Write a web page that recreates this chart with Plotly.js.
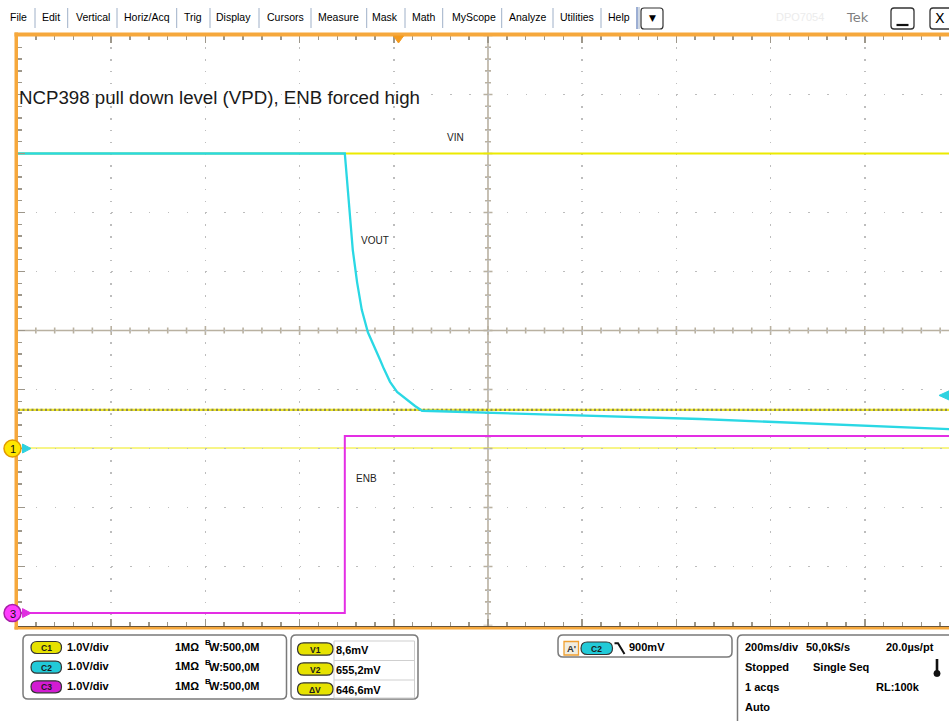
<!DOCTYPE html>
<html><head><meta charset="utf-8">
<script src="https://cdn.plot.ly/plotly-3.0.1.min.js"></script>
<style>html,body{margin:0;padding:0;background:#fff;overflow:hidden}#chart{width:949px;height:721px}</style>
</head><body><div id="chart"></div>
<script>
// ---------------- data ----------------
// time in ms relative to the screen centre (200 ms/div), volts per channel
const timeVIN  = [-1000, 979];
const voltsVIN = [5.0, 5.0];
const timeVOUT  = [-1000, -304, -302, -299, -297, -293, -287, -278, -268, -255, -242, -229, -221, -208, -193, -172, -155, -140, -38, 153, 450, 769, 979];
const voltsVOUT = [5.0, 5.0, 4.81, 4.52, 4.21, 3.84, 3.36, 2.82, 2.35, 1.97, 1.72, 1.50, 1.35, 1.13, 0.96, 0.82, 0.72, 0.64, 0.62, 0.57, 0.50, 0.40, 0.33];
const timeENB  = [-1000, -304, -304, 979];
const voltsENB = [0, 0, 3.0, 3.0];
const traceLabels = ['VIN', 'VOUT', 'ENB'];
const channelLabels = ['C1', 'C2', 'C3'];
const channelVoltsPerDiv = [1.0, 1.0, 1.0];
const channelVdivText = ['1.0V/div', '1.0V/div', '1.0V/div'];
const channelImpedance = ['1MΩ', '1MΩ', '1MΩ'];
const channelBandwidth = ['500,0M', '500,0M', '500,0M'];
const channelOffsetDiv = [-2.0, -2.0, -4.79];
const cursorLabels = ['V1', 'V2', 'ΔV'];
const cursorReadouts = ['8,6mV', '655,2mV', '646,6mV'];
const cursorVolts = [0.0086, 0.6552];
const triggerLevelVolts = 0.9;
const triggerText = '900mV';
const acqRow1 = ['200ms/div', '50,0kS/s', '20.0µs/pt'];
const acqRow2 = ['Stopped', 'Single Seq'];
const acqRow3 = ['1 acqs', 'RL:100k'];
const acqRow4 = ['Auto'];
const menuLabels = ['File','Edit','Vertical','Horiz/Acq','Trig','Display','Cursors','Measure','Mask','Math','MyScope','Analyze','Utilities','Help'];
const titleText = 'NCP398 pull down level (VPD), ENB forced high';

// ---------------- layout helpers ----------------
const W = 949, H = 721;
const YC = 330.5, DIVY = 59;
const divToPy = d => YC - d * DIVY;
const fx = x => x / W, fy = y => 1 - y / H;
const pt = (x, y) => fx(x).toFixed(5) + ',' + fy(y).toFixed(5);
const FONT = 'Liberation Sans, Arial, sans-serif';

const menuCenters = [18.5,50.5,92.5,147,193,233.5,285,338,385,423.5,473.5,527.5,576.5,619];
const menuSeps = [35,67.7,117,176.7,210,259,311,366.7,405,442.7,501.7,553,601];

const annotations = [];
const shapes = [];
function txt(text, x, y, o = {}) {
  annotations.push({xref:'paper', yref:'paper', x:fx(x), y:fy(y), text:text, showarrow:false,
    xanchor:o.xa || 'left', yanchor:'middle', align:'left', borderpad:0, borderwidth:0,
    font:{family:o.family || FONT, size:o.size || 11, color:o.color || '#000', weight:o.weight || 'normal'}});
}
function rr(x0, y0, x1, y1, r) {
  return `M${pt(x0+r,y0)} L${pt(x1-r,y0)} Q${pt(x1,y0)} ${pt(x1,y0+r)} L${pt(x1,y1-r)} Q${pt(x1,y1)} ${pt(x1-r,y1)} L${pt(x0+r,y1)} Q${pt(x0,y1)} ${pt(x0,y1-r)} L${pt(x0,y0+r)} Q${pt(x0,y0)} ${pt(x0+r,y0)} Z`;
}
function pathShape(path, fill, line, lw, layer) {
  shapes.push({type:'path', xref:'paper', yref:'paper', path:path, fillcolor:fill || 'rgba(0,0,0,0)',
    line:{color:line || 'rgba(0,0,0,0)', width:lw === undefined ? 1 : lw}, layer:layer || 'above'});
}
function rect(x0, y0, x1, y1, fill, line, lw) {
  shapes.push({type:'rect', xref:'paper', yref:'paper', x0:fx(x0), x1:fx(x1), y0:fy(y0), y1:fy(y1),
    fillcolor:fill, line:{color:line || 'rgba(0,0,0,0)', width:lw || 0}, layer:'above'});
}
function seg(x0, y0, x1, y1, color, lw) {
  shapes.push({type:'line', xref:'paper', yref:'paper', x0:fx(x0), x1:fx(x1), y0:fy(y0), y1:fy(y1),
    line:{color:color, width:lw}, layer:'above'});
}
function circ(cx, cy, r, fill, line, lw) {
  shapes.push({type:'circle', xref:'paper', yref:'paper', x0:fx(cx-r), x1:fx(cx+r), y0:fy(cy+r), y1:fy(cy-r),
    fillcolor:fill, line:{color:line, width:lw}, layer:'above'});
}
function pill(x0, y0, x1, y1, fill, label) {
  pathShape(rr(x0, y0, x1, y1, (y1 - y0) / 2), fill, '#333', 1.2);
  txt(label, (x0 + x1) / 2, (y0 + y1) / 2 + 0.5, {xa:'center', size:8.5, color:'#1a1a1a', weight:'bold'});
}

// ---------------- menu bar ----------------
menuLabels.forEach((m, i) => txt(m, menuCenters[i], 17.5, {xa:'center', size:10.5}));
menuSeps.forEach(x => seg(x, 8, x, 28, '#9fb0c8', 1));
seg(637, 7, 637, 29, '#3a5fa8', 1); seg(639, 7, 639, 29, '#9fb0c8', 1);
pathShape(rr(641, 8, 663, 29, 3), '#fff', '#333', 1.2);
txt('▼', 652, 18, {xa:'center', size:9, family:'DejaVu Sans'});
txt('DPO7054', 800, 17.5, {xa:'center', size:11, color:'#ececec'});
txt('Tek', 857, 17.5, {xa:'center', size:13, color:'#808080', family:'DejaVu Sans'});
pathShape(rr(891, 8, 914, 29, 3), '#fff', '#333', 1.3);
seg(896.5, 25, 908.5, 25, '#111', 2.2);
pathShape(rr(930, 8, 956, 29, 3), '#fff', '#333', 1.3);
txt('X', 939.5, 18.5, {xa:'center', size:14, family:'DejaVu Sans'});

// ---------------- graticule frame ----------------
rect(14.5, 32.5, 949, 36.5, '#f6a83c');
rect(14.5, 32.5, 18, 629.5, '#f6a83c');
rect(14.5, 626.8, 949, 629.5, '#f6a83c');
// trigger position marker
pathShape(`M${pt(393.5,36)} L${pt(403.5,36)} L${pt(398.5,43)} Z`, '#f39a1e', '#f39a1e', 1);

// centre cross with ticks
const gColor = '#b9b1a1';
shapes.push({type:'line', xref:'x', yref:'paper', x0:0, x1:0, y0:fy(625.5), y1:fy(35.5), line:{color:gColor, width:1.6}, layer:'below'});
shapes.push({type:'line', xref:'paper', yref:'y', x0:fx(17), x1:1, y0:0, y1:0, line:{color:gColor, width:1.6}, layer:'below'});
for (let k = -25; k <= 24; k++) {
  const t = k * 40, major = (k % 5 === 0);
  shapes.push({type:'line', xref:'x', yref:'y', x0:t, x1:t, ysizemode:'pixel', yanchor:0,
    y0:major ? -4.5 : -3, y1:major ? 4.5 : 3, line:{color:gColor, width:1.6}, layer:'below'});
}
for (let k = -25; k <= 25; k++) {
  const v = k * 0.2, major = (k % 5 === 0);
  shapes.push({type:'line', xref:'x', yref:'y', y0:v, y1:v, xsizemode:'pixel', xanchor:0,
    x0:major ? -4.5 : -3, x1:major ? 4.5 : 3, line:{color:gColor, width:1.6}, layer:'below'});
}

// cursors (on channel 1)
const c1 = v => v / channelVoltsPerDiv[0] + channelOffsetDiv[0];
shapes.push({type:'line', xref:'paper', yref:'y', x0:fx(18), x1:1, y0:c1(cursorVolts[0]), y1:c1(cursorVolts[0]),
  line:{color:'#f0ec10', width:1.2}, layer:'below'});
shapes.push({type:'line', xref:'paper', yref:'y', x0:fx(18), x1:1, y0:c1(cursorVolts[1]), y1:c1(cursorVolts[1]),
  line:{color:'#ece626', width:2.2}, layer:'below'});
shapes.push({type:'line', xref:'paper', yref:'y', x0:fx(18), x1:1, y0:c1(cursorVolts[1]), y1:c1(cursorVolts[1]),
  line:{color:'#8e8a52', width:2.2, dash:'2px,2.5px'}, layer:'below'});

// channel ground markers
const g1 = divToPy(channelOffsetDiv[0]);
const g3 = divToPy(channelOffsetDiv[2]);
pathShape(`M${pt(22.5,g1-4.5)} L${pt(31,g1)} L${pt(22.5,g1+4.5)} Z`, '#2fd2e0', '#2fd2e0', 1);
circ(12.5, g1, 8.5, '#ffe600', '#e29a00', 1.5);
txt('1', 12.5, g1 + 0.5, {xa:'center', size:11, color:'#111'});
pathShape(`M${pt(22.5,g3-4.5)} L${pt(31,g3)} L${pt(22.5,g3+4.5)} Z`, '#e02ee0', '#e02ee0', 1);
circ(12.5, g3, 8.5, '#ff3cff', '#a81ea8', 1.5);
txt('3', 12.5, g3 + 0.5, {xa:'center', size:11, color:'#111'});
// trigger level marker (C2)
const gT = divToPy(triggerLevelVolts / channelVoltsPerDiv[1] + channelOffsetDiv[1]);
pathShape(`M${pt(950,gT-5)} L${pt(939,gT)} L${pt(950,gT+5)} Z`, '#2fd2e0', '#2fd2e0', 1);

// titles & trace labels
txt(titleText, 19, 97.5, {size:18.7, color:'#1a1a1a'});
txt(traceLabels[0], 455, 137.5, {xa:'center', size:10, color:'#222'});
txt(traceLabels[1], 375, 240, {xa:'center', size:10, color:'#222'});
txt(traceLabels[2], 366, 478, {xa:'center', size:10, color:'#222'});

// ---------------- bottom panels ----------------
const chanColors = ['#e6e200', '#22cad8', '#d21cd2'];
pathShape(rr(23, 635, 286.5, 699, 5), '#fff', '#7a7a7a', 1.5);
const rows1 = [647.5, 667.2, 686.8];
channelLabels.forEach((c, i) => {
  pill(31, rows1[i] - 6, 61.5, rows1[i] + 6, chanColors[i], c);
  txt(channelVdivText[i], 66.5, rows1[i] - 1, {size:11, weight:'bold'});
  txt(channelImpedance[i], 175, rows1[i] - 1, {size:11, weight:'bold'});
  txt('B', 204.5, rows1[i] - 5, {size:8, weight:'bold'});
  txt('W:' + channelBandwidth[i], 208.5, rows1[i] - 0.5, {size:11, weight:'bold'});
});
pathShape(rr(291, 635, 418, 699, 5), '#fff', '#7a7a7a', 1.5);
rect(334, 641, 414.5, 698, '#fff', '#cfcfcf', 1);
seg(334, 660.5, 414.5, 660.5, '#cfcfcf', 1);
seg(334, 680, 414.5, 680, '#cfcfcf', 1);
const rows2 = [649, 669, 689];
cursorLabels.forEach((c, i) => {
  pill(297.5, rows2[i] - 6.2, 333, rows2[i] + 6.2, chanColors[0], c);
  txt(cursorReadouts[i], 336, rows2[i] + 1, {size:11, weight:'bold'});
});
pathShape(rr(558, 635, 732, 657, 5), '#fff', '#7a7a7a', 1.5);
rect(564, 641.5, 578.5, 655, '#f1ede0', '#f0a030', 1.3);
txt("A'", 571.2, 648.5, {xa:'center', size:9.5, color:'#333', weight:'bold'});
pill(581, 642, 612.5, 654.5, chanColors[1], channelLabels[1]);
pathShape(`M${pt(614.5,643.3)} L${pt(618,643.3)} L${pt(624.5,654)}`, null, '#111', 2);
txt(triggerText, 629, 647.3, {size:11, weight:'bold'});
pathShape(rr(737.5, 635, 990, 760, 5), '#fff', '#7a7a7a', 1.5);
txt(acqRow1[0], 744.5, 647.3, {size:11, weight:'bold'});
txt(acqRow1[1], 806, 647.3, {size:11, weight:'bold'});
txt(acqRow1[2], 885.5, 647.3, {size:11, weight:'bold'});
txt(acqRow2[0], 744.5, 667.3, {size:11, weight:'bold'});
txt(acqRow2[1], 813, 667.3, {size:11, weight:'bold'});
txt(acqRow3[0], 744.5, 686.7, {size:11, weight:'bold'});
txt(acqRow3[1], 875.5, 686.7, {size:11, weight:'bold'});
txt(acqRow4[0], 744.5, 706.7, {size:11, weight:'bold'});
rect(935.7, 659, 938.3, 672, '#111');
circ(937, 673.5, 3.2, '#111', '#111', 0.5);

// ---------------- traces ----------------
const toDiv = (vals, ch) => vals.map(v => v / channelVoltsPerDiv[ch] + channelOffsetDiv[ch]);
const data = [
  {x:timeVIN, y:toDiv(voltsVIN, 0), name:traceLabels[0], mode:'lines', line:{color:'#ecea00', width:2.2}, hoverinfo:'skip'},
  {x:timeENB, y:toDiv(voltsENB, 2), name:traceLabels[2], mode:'lines', line:{color:'#e42ee4', width:2}, hoverinfo:'skip'},
  {x:timeVOUT, y:toDiv(voltsVOUT, 1), name:traceLabels[1], mode:'lines', line:{color:'#2ad8e4', width:2.3}, hoverinfo:'skip'}
];

const tickC = '#9d978b';
const layout = {
  width:W, height:H, autosize:false,
  margin:{l:0, r:0, t:0, b:0, pad:0},
  paper_bgcolor:'#fff', plot_bgcolor:'#fff', showlegend:false,
  xaxis:{domain:[17/W, 1], range:[-1000, 978.8], dtick:200, tick0:0,
    showgrid:true, gridcolor:'#bdbdbd', gridwidth:1.5, griddash:'1.5px,10.3px',
    zeroline:false, showticklabels:false, ticks:'inside', ticklen:7, tickwidth:1.5, tickcolor:tickC,
    minor:{dtick:40, tick0:0, ticks:'inside', ticklen:4, tickwidth:1.5, tickcolor:tickC, showgrid:false},
    showline:true, linecolor:'#3a3a3a', linewidth:2, mirror:'ticks', fixedrange:true},
  yaxis:{domain:[1 - 625.5/H, 1 - 35.5/H], range:[-5, 5], dtick:1, tick0:0,
    showgrid:true, gridcolor:'#bdbdbd', gridwidth:1.5, griddash:'1.5px,17.34px',
    zeroline:false, showticklabels:false, ticks:'inside', ticklen:8, tickwidth:1.5, tickcolor:tickC,
    minor:{dtick:0.2, tick0:0, ticks:'inside', ticklen:5, tickwidth:1.5, tickcolor:tickC, showgrid:false},
    showline:false, mirror:false, fixedrange:true},
  shapes:shapes, annotations:annotations
};
Plotly.newPlot('chart', data, layout, {staticPlot:true, displayModeBar:false});
</script></body></html>
